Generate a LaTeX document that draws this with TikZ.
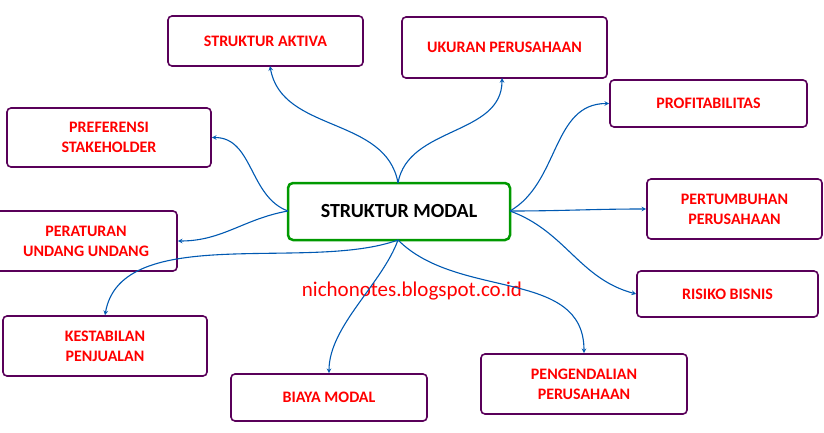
\documentclass[tikz,border=0pt]{standalone}
\usepackage{fontspec}
\setmainfont{Carlito}
\begin{document}
\begin{tikzpicture}[x=1pt,y=-1pt,
 box/.style={draw=violet!70!black,line width=1.6pt,rounded corners=4pt,text=red,font=\bfseries\fontsize{16}{20}\selectfont,align=center,inner sep=0pt},
 conn/.style={draw=blue!50!cyan!70!black,line width=1.1pt,-stealth}]
\useasboundingbox (0,0) rectangle (824,433);
\node[draw=green!60!black,line width=2.5pt,rounded corners=5pt,minimum width=222pt,minimum height=57pt,font=\bfseries\fontsize{20}{24}\selectfont] (c) at (399,211.5) {STRUKTUR MODAL};
\node[box,minimum width=195pt,minimum height=50pt] (a) at (265.5,41) {STRUKTUR AKTIVA};
\node[box,minimum width=205pt,minimum height=61pt] (u) at (504.5,47.5) {UKURAN PERUSAHAAN};
\node[box,minimum width=197pt,minimum height=47pt] (p) at (708.5,103.5) {PROFITABILITAS};
\node[box,minimum width=204pt,minimum height=59pt] (s) at (109,137.5) {PREFERENSI\\STAKEHOLDER};
\node[box,minimum width=175pt,minimum height=60pt] (g) at (734.5,209) {PERTUMBUHAN\\PERUSAHAAN};
\node[box,minimum width=182pt,minimum height=60pt] (r) at (86,241) {PERATURAN\\UNDANG UNDANG};
\node[box,minimum width=181pt,minimum height=46pt] (b) at (727.5,294) {RISIKO BISNIS};
\node[box,minimum width=204pt,minimum height=60pt] (k) at (105,346) {KESTABILAN\\PENJUALAN};
\node[box,minimum width=196pt,minimum height=47pt] (m) at (329,397.5) {BIAYA MODAL};
\node[box,minimum width=206pt,minimum height=60pt] (e) at (584,384) {PENGENDALIAN\\PERUSAHAAN};
\node[text=red,font=\fontsize{21}{24}\selectfont] (w) at (412,291) {nichonotes.blogspot.co.id};
\coordinate (ct) at (398,183); \coordinate (cb) at (398,240);
\coordinate (cl) at (288,211); \coordinate (cr) at (510,211);
\draw[conn] (ct) to[out=100,in=-80,looseness=1] (270,66);
\draw[conn] (ct) to[out=80,in=-90] (502,78);
\draw[conn] (cr) to[out=30,in=180] (p.west);
\draw[conn] (cr) to[out=0,in=180] (g.west);
\draw[conn] (cr) to[out=-20,in=165] (b.west);
\draw[conn] (cl) to[out=160,in=0] (s.east);
\draw[conn] (cl) to[out=190,in=0] (r.east);
\draw[conn] (cb) to[out=200,in=80,looseness=0.8] (k.north);
\draw[conn] (cb) to[out=250,in=90,looseness=0.8] (m.north);
\draw[conn] (cb) to[out=-45,in=90] (e.north);
\end{tikzpicture}
\end{document}
